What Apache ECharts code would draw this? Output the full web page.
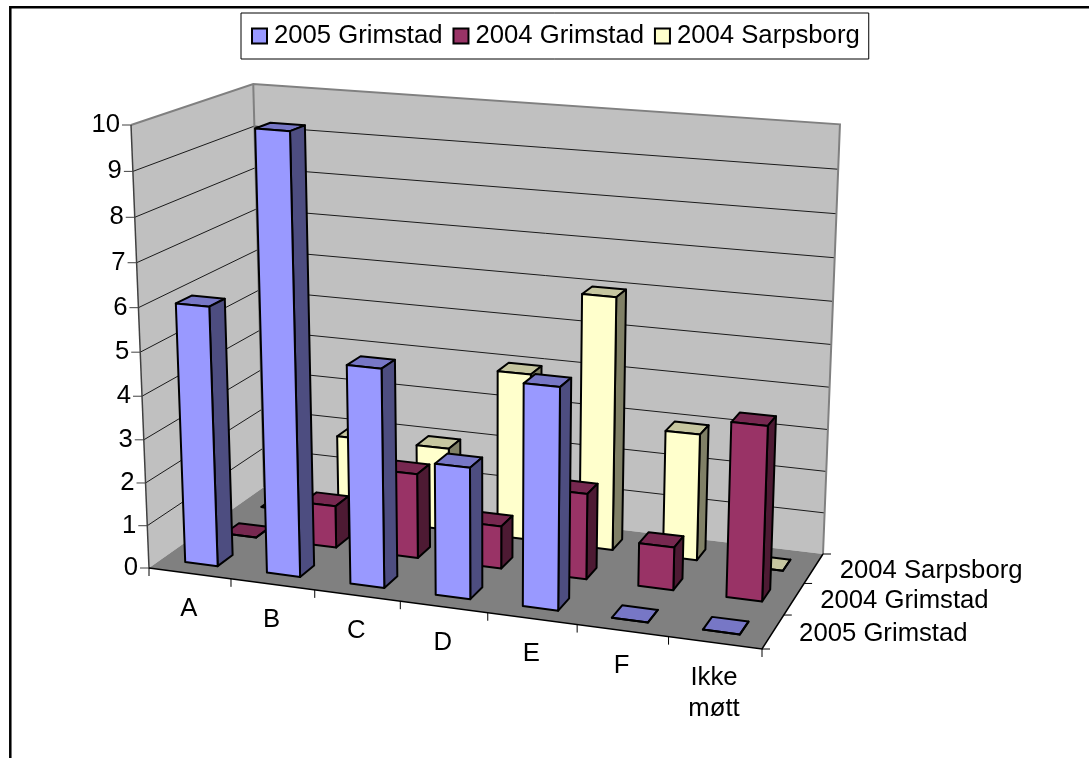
<!DOCTYPE html>
<html>
<head>
<meta charset="utf-8">
<title>3D bars</title>
<script src="https://cdn.jsdelivr.net/npm/echarts@6/dist/echarts.min.js"></script>
<style>
	html, body { margin: 0; padding: 0; background: #fff; }
	#main { width: 1089px; height: 758px; }
</style>
</head>
<body>
<div id="main"></div>
<script>
var categories = ['A', 'B', 'C', 'D', 'E', 'F', 'Ikke\nmøtt'];
var rowNames = ['2005 Grimstad', '2004 Grimstad', '2004 Sarpsborg'];
var valueTicks = [0, 1, 2, 3, 4, 5, 6, 7, 8, 9, 10];
var grimstad2005 = [6, 10, 5, 3, 5, 0, 0];
var grimstad2004 = [0, 1, 2, 1, 2, 1, 4];
var sarpsborg2004 = [0, 2, 2, 4, 6, 3, 0];

var FONT = '"Liberation Sans", Arial, sans-serif';
var FONT_SIZE = 25.7;
var BAR_SHARE = 0.4; // bar width inside its category
var BAR_SHIFT = 0.012; // bars sit a bit left of the category centre
var DEPTH_SHARE = 0.38; // bar depth inside its row

// corners of the 3d box on screen, everything else is projected from these
var O = [149, 568], FR = [762, 649], BL = [264, 487], BR = [823, 554];
var TL = [131, 125], BLT = [253, 85], BRT = [840, 118];

function sub(a, b) { return [a[0] - b[0], a[1] - b[1]]; }
function add(a, b) { return [a[0] + b[0], a[1] + b[1]]; }
function scale(a, k) { return [a[0] * k, a[1] * k]; }
function dot(a, b) { return a[0] * b[0] + a[1] * b[1]; }

// perspective terms
var d1 = sub(FR, BR), d2 = sub(BL, BR), r = add(sub(sub(BR, FR), BL), O);
var det = d1[0] * d2[1] - d1[1] * d2[0];
var gx = (r[0] * d2[1] - r[1] * d2[0]) / det;
var gy = (d1[0] * r[1] - d1[1] * r[0]) / det;
// gz: least squares over the two back top corners
var d3 = sub(TL, BLT);
var r3 = sub(add(sub(sub(BLT, BL), TL), O), scale(sub(BL, BLT), gy));
var d4 = sub(TL, BRT);
var r4 = add(sub(scale(BRT, 1 + gx + gy), add(scale(FR, 1 + gx), scale(BL, 1 + gy))), sub(scale(O, 2), TL));
var gz = (dot(d3, r3) + dot(d4, r4)) / (dot(d3, d3) + dot(d4, d4));
var U = sub(scale(FR, 1 + gx), O), V = sub(scale(BL, 1 + gy), O), W = sub(scale(TL, 1 + gz), O);

function project(x, y, z) {
	var w = 1 + gx * x + gy * y + gz * z;
	return [
		(O[0] + x * U[0] + y * V[0] + z * W[0]) / w,
		(O[1] + x * U[1] + y * V[1] + z * W[1]) / w
	];
}

// hidden cartesian axes give the scales, api.coord -> box fractions -> project
function boxPoint(api, params, cat, row, val) {
	var c = api.coord([cat, val]);
	var sys = params.coordSys;
	return project((c[0] - sys.x) / sys.width, row / rowNames.length, 1 - (c[1] - sys.y) / sys.height);
}

function poly(pts, fill, stroke, lw) {
	return {
		type: 'polygon',
		shape: { points: pts },
		style: { fill: fill, stroke: stroke || null, lineWidth: lw || 0, lineJoin: 'round' }
	};
}
function line(pts, color, lw) {
	return {
		type: 'polyline',
		shape: { points: pts },
		style: { fill: null, stroke: color, lineWidth: lw }
	};
}
function label(text, x, y, align, vAlign) {
	return {
		type: 'text',
		style: {
			text: text, x: x, y: y, align: align, verticalAlign: vAlign,
			font: FONT_SIZE + 'px ' + FONT, fill: '#000', lineHeight: 31
		}
	};
}

function barSeries(name, row, values, front, top, side) {
	return {
		name: name,
		type: 'custom',
		coordinateSystem: 'cartesian2d',
		itemStyle: { color: front, borderColor: '#000', borderWidth: 1.5 },
		silent: true,
		animation: false,
		clip: false,
		data: values.map(function (v, i) { return [i, v]; }),
		encode: { x: 0, y: 1 },
		renderItem: function (params, api) {
			var cat = api.value(0), val = api.value(1);
			var m = (1 - BAR_SHARE) / 2, md = (1 - DEPTH_SHARE) / 2;
			var x0 = cat + m - BAR_SHIFT, x1 = cat + 1 - m - BAR_SHIFT, y0 = row + md, y1 = row + 1 - md;
			var p = function (x, y, v) { return boxPoint(api, params, x, y, v); };
			return {
				type: 'group',
				children: [
					poly([p(x0, y0, val), p(x1, y0, val), p(x1, y1, val), p(x0, y1, val)], top, '#000', 2),
					poly([p(x1, y0, 0), p(x1, y1, 0), p(x1, y1, val), p(x1, y0, val)], side, '#000', 2),
					poly([p(x0, y0, 0), p(x1, y0, 0), p(x1, y0, val), p(x0, y0, val)], front, '#000', 2)
				]
			};
		}
	};
}

// walls, floor, gridlines, ticks, all labels
var boxSeries = {
	type: 'custom',
	coordinateSystem: 'cartesian2d',
	silent: true,
	animation: false,
	clip: false,
	data: [[0, 0]],
	encode: { x: 0, y: 1 },
	renderItem: function (params, api) {
		var n = categories.length, rows = rowNames.length, top = valueTicks[valueTicks.length - 1];
		var p = function (x, y, v) { return boxPoint(api, params, x, y, v); };
		var els = [];
		els.push(poly([p(0, 0, 0), p(0, rows, 0), p(0, rows, top), p(0, 0, top)], '#C0C0C0'));
		els.push(poly([p(0, rows, 0), p(n, rows, 0), p(n, rows, top), p(0, rows, top)], '#C0C0C0'));
		els.push(poly([p(0, 0, 0), p(n, 0, 0), p(n, rows, 0), p(0, rows, 0)], '#808080'));

		valueTicks.forEach(function (v) {
			var a = p(0, 0, v);
			if (v > 0 && v < top) {
				els.push(line([a, p(0, rows, v), p(n, rows, v)], '#1a1a1a', 1));
			}
			els.push(line([[a[0] - 9, a[1]], a], '#404040', 1));
			els.push(label(String(v), a[0] - 11, a[1], 'right', 'middle'));
		});
		// wall edges
		els.push(line([p(0, 0, top), p(0, rows, top), p(n, rows, top), p(n, rows, 0)], '#808080', 2));
		els.push(line([p(0, rows, top), p(0, rows, 0)], '#808080', 2));
		els.push(line([p(0, 0, top), p(0, 0, 0)], '#404040', 1.5));
		// floor edges
		els.push(line([p(0, 0, 0), p(n, 0, 0), p(n, rows, 0)], '#000', 1.5));

		for (var i = 0; i <= n; i++) {
			var t = p(i, 0, 0);
			els.push(line([t, [t[0], t[1] + 8]], '#000', 1));
			if (i < n) {
				var mid = p(i + 0.5, 0, 0);
				els.push(label(categories[i], mid[0] - 1, mid[1] + 20, 'center', 'top'));
			}
		}
		for (var j = 0; j <= rows; j++) {
			var s = p(n, j, 0);
			els.push(line([s, [s[0] + 8, s[1]]], '#000', 1));
			if (j < rows) {
				var rm = p(n, j + 0.5, 0);
				els.push(label(rowNames[j], rm[0] + 26, rm[1] + 2, 'left', 'middle'));
			}
		}
		return { type: 'group', children: els };
	}
};

var myChart = echarts.init(document.getElementById('main'), null, { renderer: 'canvas' });

var option = {
	animation: false,
	backgroundColor: '#fff',
	textStyle: { fontFamily: FONT },
	grid: { left: 100, right: 100, top: 100, bottom: 100 },
	xAxis: { type: 'value', min: 0, max: categories.length, show: false },
	yAxis: { type: 'value', min: 0, max: 10, show: false },
	legend: {
		left: 241,
		top: 13,
		padding: [10, 9, 10, 10],
		data: rowNames,
		orient: 'horizontal',
		icon: 'rect',
		itemWidth: 15,
		itemHeight: 15,
		itemGap: 10,
		borderColor: '#000',
		borderWidth: 1,
		selectedMode: false,
		textStyle: { fontFamily: FONT, fontSize: FONT_SIZE, color: '#000', padding: [0, 0, 0, 2] }
	},
	graphic: [{
		type: 'polyline',
		silent: true,
		shape: { points: [[10.3, 758], [10.3, 7.3], [1089, 7.3]] },
		style: { fill: null, stroke: '#000', lineWidth: 2.5 }
	}],
	series: [
		boxSeries,
		barSeries(rowNames[2], 2, sarpsborg2004, '#FFFFCC', '#C6C6A0', '#808066'),
		barSeries(rowNames[1], 1, grimstad2004, '#993366', '#772850', '#4D1A33'),
		barSeries(rowNames[0], 0, grimstad2005, '#9999FF', '#7777C6', '#4D4D80')
	]
};

myChart.setOption(option);
window.onresize = myChart.resize;
</script>
</body>
</html>
